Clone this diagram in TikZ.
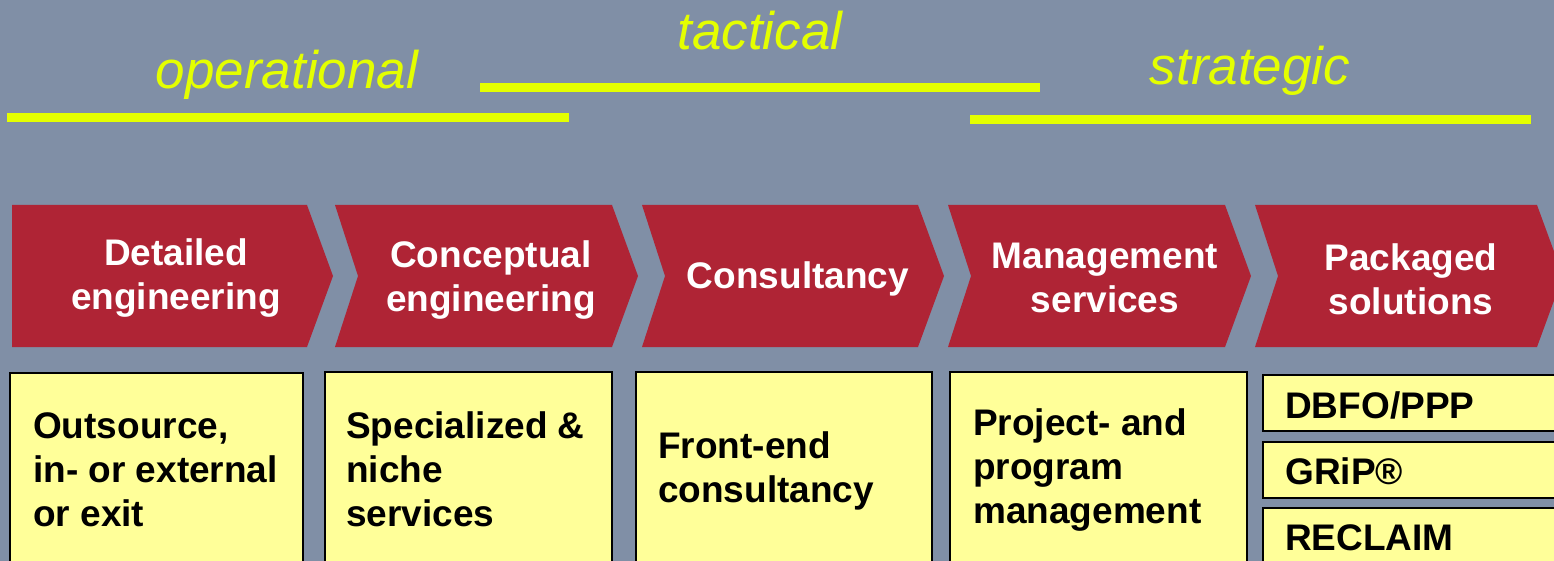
\documentclass[tikz,border=0pt]{standalone}
\usepackage{fontspec}
\setmainfont{Liberation Sans}
\definecolor{bg}{RGB}{128,143,166}
\definecolor{chev}{RGB}{175,36,53}
\definecolor{boxy}{RGB}{255,255,153}
\definecolor{lime}{RGB}{228,255,0}
\tikzset{
  chevshape/.style={fill=chev, draw=none},
  chevtext/.style={text=white, font=\fontsize{37}{44}\selectfont\bfseries, align=center, inner sep=0pt},
  ybox/.style={fill=boxy, draw=black, line width=2.2pt},
  boxtext/.style={text=black, font=\fontsize{37}{44}\selectfont\bfseries, align=left, inner sep=0pt, anchor=west},
  levtext/.style={text=lime, font=\fontsize{53}{60}\selectfont\itshape, inner sep=0pt},
  levline/.style={draw=lime, line width=9pt}
}
\begin{document}
\begin{tikzpicture}[x=1pt,y=-1pt]
\useasboundingbox (0,0) rectangle (1554,561);
\clip (0,0) rectangle (1554,561);
\fill[bg] (-5,-5) rectangle (1560,570);
% level lines
\coordinate (op1) at (7,118); \coordinate (op2) at (569,118);
\coordinate (ta1) at (480,88); \coordinate (ta2) at (1040,88);
\coordinate (st1) at (970,120); \coordinate (st2) at (1531,120);
\draw[levline] (op1) -- (op2);
\draw[levline] (ta1) -- (ta2);
\draw[levline] (st1) -- (st2);
\node[levtext] (op) at (287,75) {operational};
\node[levtext] (ta) at (760,31) {tactical};
\node[levtext] (st) at (1250,71) {strategic};
% chevrons
\fill[chevshape] (12,205) -- (307,205) -- (333,276) -- (307,347) -- (12,347) -- cycle;
\fill[chevshape] (335,205) -- (612,205) -- (638,276) -- (612,347) -- (335,347) -- (358,276) -- cycle;
\fill[chevshape] (642,205) -- (918,205) -- (944,276) -- (918,347) -- (642,347) -- (665,276) -- cycle;
\fill[chevshape] (948,205) -- (1225,205) -- (1251,276) -- (1225,347) -- (948,347) -- (971,276) -- cycle;
\fill[chevshape] (1255,205) -- (1537,205) -- (1563,276) -- (1537,347) -- (1255,347) -- (1278,276) -- cycle;
\node[chevtext] (c1) at (176,278) {Detailed\\engineering};
\node[chevtext] (c2) at (491,280) {Conceptual\\engineering};
\node[chevtext] (c3) at (798,279) {Consultancy};
\node[chevtext] (c4) at (1105,278) {Management\\services};
\node[chevtext] (c5) at (1411,279) {Packaged\\solutions};
% yellow boxes
\draw[ybox] (10,373) rectangle (303,590);
\draw[ybox] (325,372) rectangle (612,590);
\draw[ybox] (636,372) rectangle (932,590);
\draw[ybox] (950,372) rectangle (1247,590);
\draw[ybox] (1263,375) rectangle (1580,431);
\draw[ybox] (1263,442) rectangle (1580,498);
\draw[ybox] (1263,508) rectangle (1580,590);
\node[boxtext] (b1) at (33,470) {Outsource,\\in- or external\\or exit};
\node[boxtext] (b2) at (346,469) {Specialized \&\\niche\\services};
\node[boxtext] (b3) at (658,471) {Front-end\\consultancy};
\node[boxtext] (b4) at (973,470) {Project- and\\program\\management};
\node[boxtext] (b5a) at (1285,405) {DBFO/PPP};
\node[boxtext] (b5b) at (1285,471) {GRiP®};
\node[boxtext] (b5c) at (1285,538) {RECLAIM};
\end{tikzpicture}
\end{document}
